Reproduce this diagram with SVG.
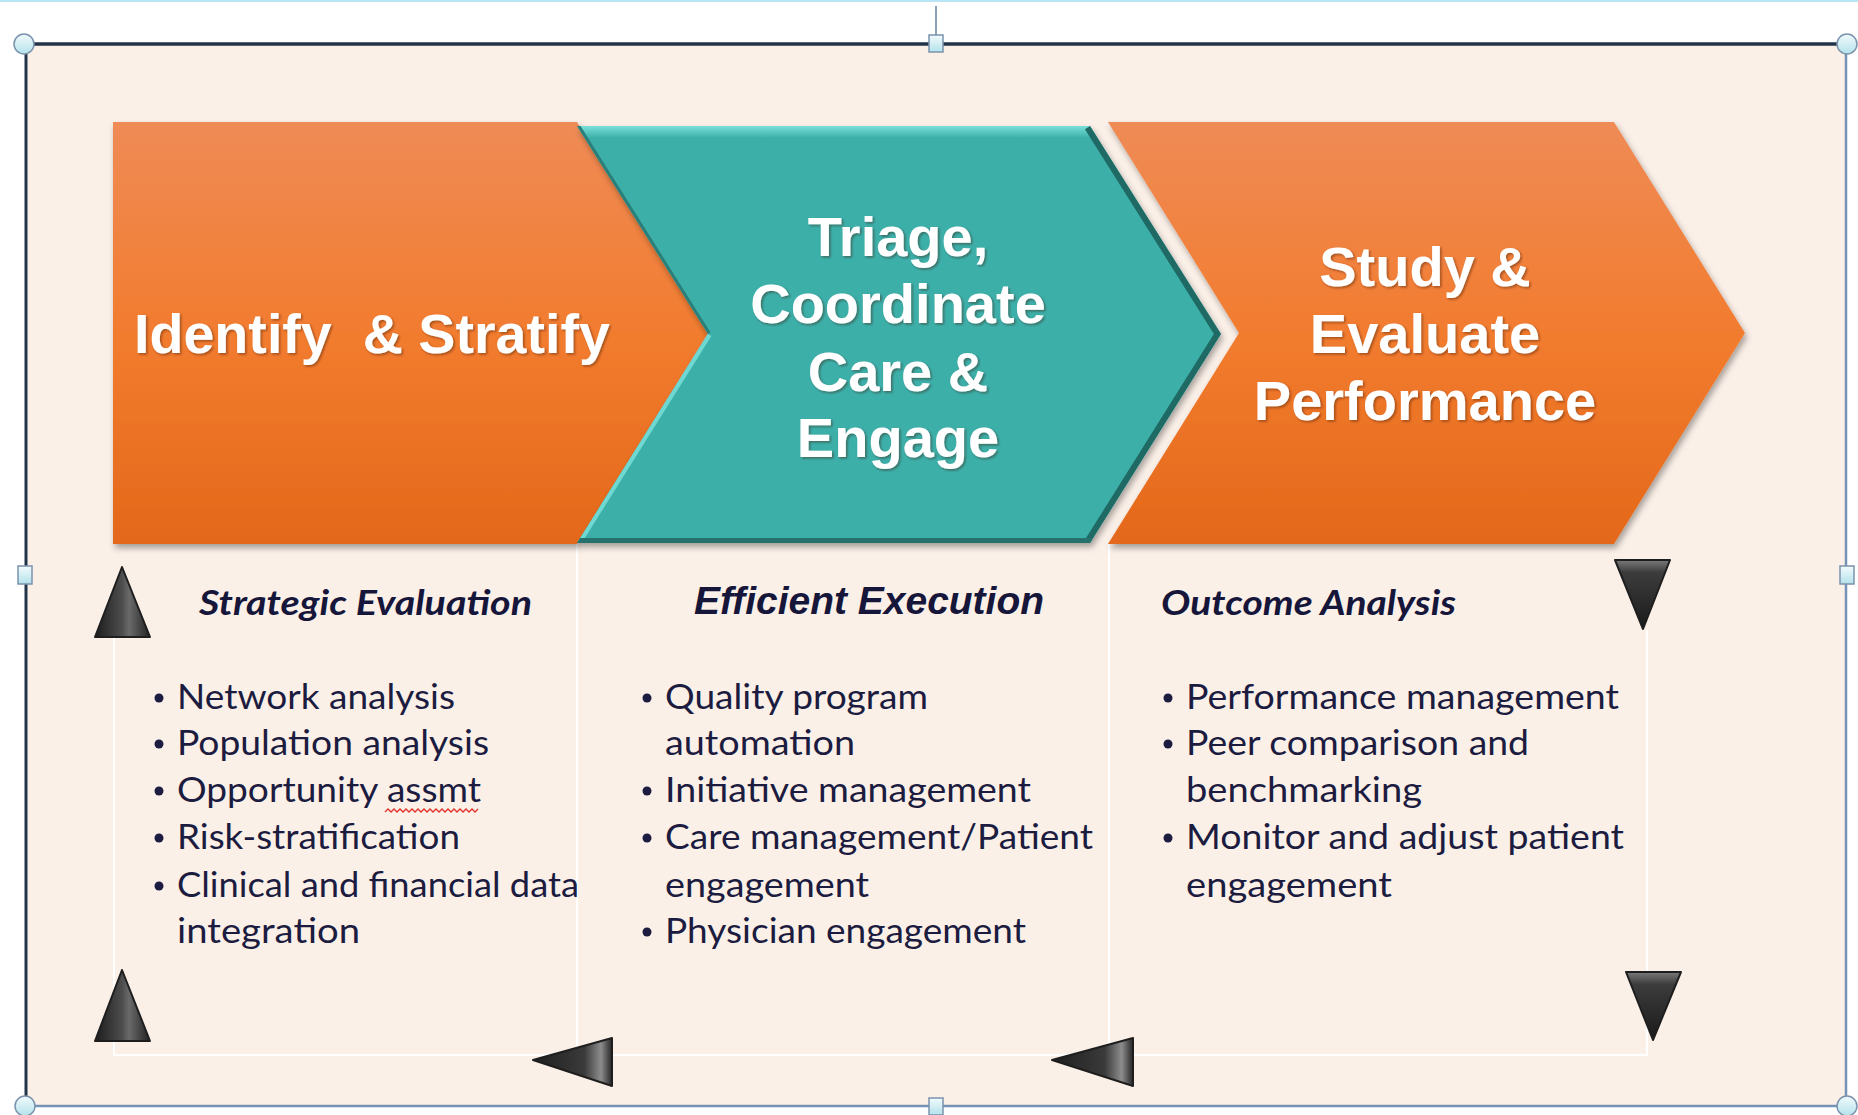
<svg xmlns="http://www.w3.org/2000/svg" width="1858" height="1115" viewBox="0 0 1858 1115">
<defs>
<style>
.title{font-family:"Liberation Sans",Arial,sans-serif;font-weight:700;font-size:56px;fill:#ffffff;}
.head{font-family:Lato,"Open Sans",sans-serif;font-weight:700;font-style:italic;font-size:35px;fill:#15163a;}
.ee{font-family:"Liberation Sans",Arial,sans-serif;font-weight:700;font-style:italic;font-size:38px;fill:#15163a;}
.body{font-family:Lato,"Open Sans",sans-serif;font-size:35px;fill:#1c1c40;}
.dot{fill:#1c1c40;}
.loop{fill:none;stroke:#ffffff;stroke-width:2;}
.handle{fill:url(#hg);stroke:#7b93ad;stroke-width:1.5;}
.tri{stroke-linejoin:round;stroke-width:2;}
</style>
<linearGradient id="og" x1="0" y1="0" x2="0" y2="1">
<stop offset="0" stop-color="#EF8B56"/>
<stop offset="0.5" stop-color="#F27C2F"/>
<stop offset="1" stop-color="#E4681A"/>
</linearGradient>
<linearGradient id="hg" x1="0" y1="0" x2="0" y2="1">
<stop offset="0" stop-color="#f2fbfd"/>
<stop offset="1" stop-color="#b3e2ea"/>
</linearGradient>
<linearGradient id="topBand" x1="0" y1="0" x2="0" y2="1">
<stop offset="0" stop-color="#78e0d9"/>
<stop offset="1" stop-color="#3DAFA9"/>
</linearGradient>
<linearGradient id="gUp" x1="0" y1="0" x2="1" y2="0">
<stop offset="0" stop-color="#1c1c1c"/>
<stop offset="0.5" stop-color="#4e4e4e"/>
<stop offset="0.62" stop-color="#6a6a6a"/>
<stop offset="1" stop-color="#222222"/>
</linearGradient>
<linearGradient id="gLeft" x1="0" y1="0" x2="1" y2="0">
<stop offset="0" stop-color="#1e1e1e"/>
<stop offset="0.65" stop-color="#3a3a3a"/>
<stop offset="0.86" stop-color="#8c8c8c"/>
<stop offset="1" stop-color="#262626"/>
</linearGradient>
<linearGradient id="gDown" x1="0" y1="0" x2="0" y2="1">
<stop offset="0" stop-color="#7a7a7a"/>
<stop offset="0.18" stop-color="#3c3c3c"/>
<stop offset="1" stop-color="#1a1a1a"/>
</linearGradient>
<filter id="shadow" x="-5%" y="-5%" width="112%" height="118%">
<feDropShadow dx="2" dy="4" stdDeviation="3" flood-color="#000000" flood-opacity="0.35"/>
</filter>
<filter id="tshadow" x="-5%" y="-10%" width="110%" height="130%">
<feDropShadow dx="1.5" dy="1.5" stdDeviation="0.8" flood-color="#3a1a00" flood-opacity="0.45"/>
</filter>
<clipPath id="tealClip">
<polygon points="577,126 1090,126 1221,334 1090,543 577,543 708,334"/>
</clipPath>
</defs>

<!-- page -->
<rect x="0" y="0" width="1858" height="1115" fill="#ffffff"/>
<rect x="0" y="0" width="1858" height="2" fill="#b8e6f5"/>

<!-- frame -->
<g id="frame">
<rect x="26" y="44" width="1820" height="1062" fill="#FBF0E8"/>
<line x1="26" y1="1106" x2="1846" y2="1106" stroke="#7492b6" stroke-width="2.5"/>
<line x1="1846" y1="44" x2="1846" y2="1106" stroke="#7492b6" stroke-width="2.5"/>
<line x1="26" y1="44" x2="26" y2="1106" stroke="#22344a" stroke-width="3"/>
<line x1="26" y1="44" x2="1846" y2="44" stroke="#22344a" stroke-width="3.5"/>
<line x1="936" y1="6" x2="936" y2="36" stroke="#8aa0b8" stroke-width="2"/>
<circle class="handle" cx="24" cy="44" r="10"/>
<circle class="handle" cx="1847" cy="44" r="10"/>
<circle class="handle" cx="25" cy="1106" r="10"/>
<circle class="handle" cx="1847" cy="1106" r="10"/>
<rect class="handle" x="929" y="35" width="14" height="17"/>
<rect class="handle" x="18" y="566" width="14" height="18"/>
<rect class="handle" x="1840" y="566" width="14" height="18"/>
<rect class="handle" x="929" y="1098" width="14" height="17"/>
</g>

<!-- connectors: loop lines and arrowheads -->
<g id="connectors">
<path class="loop" d="M114,636 L114,1055 L1647,1055 L1647,630"/>
<line class="loop" x1="577" y1="544" x2="577" y2="1055"/>
<line class="loop" x1="1109" y1="544" x2="1109" y2="1055"/>
<polygon class="tri" fill="url(#gUp)" stroke="#1e1e1e" points="122,567 95,637 150,637"/>
<polygon class="tri" fill="url(#gUp)" stroke="#1e1e1e" points="122,970 95,1041 150,1041"/>
<polygon class="tri" fill="url(#gLeft)" stroke="#1e1e1e" points="533,1060 612,1038 612,1086"/>
<polygon class="tri" fill="url(#gLeft)" stroke="#1e1e1e" points="1052,1060 1133,1038 1133,1086"/>
<polygon class="tri" fill="url(#gDown)" stroke="#1e1e1e" points="1615,560 1670,560 1643,629"/>
<polygon class="tri" fill="url(#gDown)" stroke="#1e1e1e" points="1626,972 1681,972 1653,1040"/>
</g>

<!-- stage 1 -->
<g id="stage-identify">
<polygon points="113,122 577,122 708,333 577,544 113,544" fill="url(#og)" filter="url(#shadow)"/>
<text class="title" x="134" y="353" xml:space="preserve" textLength="476" lengthAdjust="spacingAndGlyphs" filter="url(#tshadow)">Identify  &amp; Stratify</text>
</g>

<!-- stage 2 -->
<g id="stage-triage">
<g filter="url(#shadow)">
<polygon points="577,126 1090,126 1221,334 1090,543 577,543 708,334" fill="#3DAFA9"/>
</g>
<g clip-path="url(#tealClip)" fill="none">
<rect x="560" y="126" width="560" height="12" fill="url(#topBand)"/>
<line x1="708" y1="334" x2="577" y2="543" stroke="#6fd8d1" stroke-width="8"/>
<line x1="577" y1="126" x2="708" y2="334" stroke="#2a7f7a" stroke-width="6"/>
<polyline points="1090,126 1221,334 1090,543" stroke="#1f6a65" stroke-width="12"/>
<line x1="560" y1="543" x2="1100" y2="543" stroke="#26716c" stroke-width="10"/>
</g>
<g filter="url(#tshadow)">
<text class="title" x="898" y="256" text-anchor="middle">Triage,</text>
<text class="title" x="898" y="323" text-anchor="middle">Coordinate</text>
<text class="title" x="898" y="391" text-anchor="middle">Care &amp;</text>
<text class="title" x="898" y="457" text-anchor="middle">Engage</text>
</g>
</g>

<!-- stage 3 -->
<g id="stage-study">
<polygon points="1108,122 1614,122 1745,333 1614,544 1108,544 1239,333" fill="url(#og)" filter="url(#shadow)"/>
<g filter="url(#tshadow)">
<text class="title" x="1425" y="286" text-anchor="middle">Study &amp;</text>
<text class="title" x="1425" y="353" text-anchor="middle">Evaluate</text>
<text class="title" x="1425" y="420" text-anchor="middle">Performance</text>
</g>
</g>

<!-- column 1 -->
<g id="col-strategic">
<text class="head" x="199" y="615" textLength="333" lengthAdjust="spacingAndGlyphs">Strategic Evaluation</text>
<circle class="dot" cx="159" cy="698" r="4.5"/>
<text class="body" x="177" y="709" textLength="278" lengthAdjust="spacingAndGlyphs">Network analysis</text>
<circle class="dot" cx="159" cy="744" r="4.5"/>
<text class="body" x="177" y="755" textLength="312" lengthAdjust="spacingAndGlyphs">Population analysis</text>
<circle class="dot" cx="159" cy="791" r="4.5"/>
<text class="body" x="177" y="802" textLength="304" lengthAdjust="spacingAndGlyphs">Opportunity assmt</text>
<path d="M385,812 l3,-3 l3,3 l3,-3 l3,3 l3,-3 l3,3 l3,-3 l3,3 l3,-3 l3,3 l3,-3 l3,3 l3,-3 l3,3 l3,-3 l3,3 l3,-3 l3,3 l3,-3 l3,3 l3,-3 l3,3 l3,-3 l3,3 l3,-3 l3,3 l3,-3 l3,3 l3,-3 l3,3 l3,-3" fill="none" stroke="#e0302a" stroke-width="1.3"/>
<circle class="dot" cx="159" cy="838" r="4.5"/>
<text class="body" x="177" y="849" textLength="283" lengthAdjust="spacingAndGlyphs">Risk-stratification</text>
<circle class="dot" cx="159" cy="886" r="4.5"/>
<text class="body" x="177" y="897" textLength="402" lengthAdjust="spacingAndGlyphs">Clinical and financial data</text>
<text class="body" x="177" y="943" textLength="183" lengthAdjust="spacingAndGlyphs">integration</text>
</g>

<!-- column 2 -->
<g id="col-efficient">
<text class="ee" x="694" y="614" textLength="350" lengthAdjust="spacingAndGlyphs">Efficient Execution</text>
<circle class="dot" cx="647" cy="698" r="4.5"/>
<text class="body" x="665" y="709" textLength="263" lengthAdjust="spacingAndGlyphs">Quality program</text>
<text class="body" x="665" y="755" textLength="190" lengthAdjust="spacingAndGlyphs">automation</text>
<circle class="dot" cx="647" cy="791" r="4.5"/>
<text class="body" x="665" y="802" textLength="366" lengthAdjust="spacingAndGlyphs">Initiative management</text>
<circle class="dot" cx="647" cy="838" r="4.5"/>
<text class="body" x="665" y="849" textLength="428" lengthAdjust="spacingAndGlyphs">Care management/Patient</text>
<text class="body" x="665" y="897" textLength="204" lengthAdjust="spacingAndGlyphs">engagement</text>
<circle class="dot" cx="647" cy="932" r="4.5"/>
<text class="body" x="665" y="943" textLength="361" lengthAdjust="spacingAndGlyphs">Physician engagement</text>
</g>

<!-- column 3 -->
<g id="col-outcome">
<text class="head" x="1161" y="615" textLength="295" lengthAdjust="spacingAndGlyphs">Outcome Analysis</text>
<circle class="dot" cx="1168" cy="698" r="4.5"/>
<text class="body" x="1186" y="709" textLength="433" lengthAdjust="spacingAndGlyphs">Performance management</text>
<circle class="dot" cx="1168" cy="744" r="4.5"/>
<text class="body" x="1186" y="755" textLength="343" lengthAdjust="spacingAndGlyphs">Peer comparison and</text>
<text class="body" x="1186" y="802" textLength="236" lengthAdjust="spacingAndGlyphs">benchmarking</text>
<circle class="dot" cx="1168" cy="838" r="4.5"/>
<text class="body" x="1186" y="849" textLength="438" lengthAdjust="spacingAndGlyphs">Monitor and adjust patient</text>
<text class="body" x="1186" y="897" textLength="206" lengthAdjust="spacingAndGlyphs">engagement</text>
</g>
</svg>
